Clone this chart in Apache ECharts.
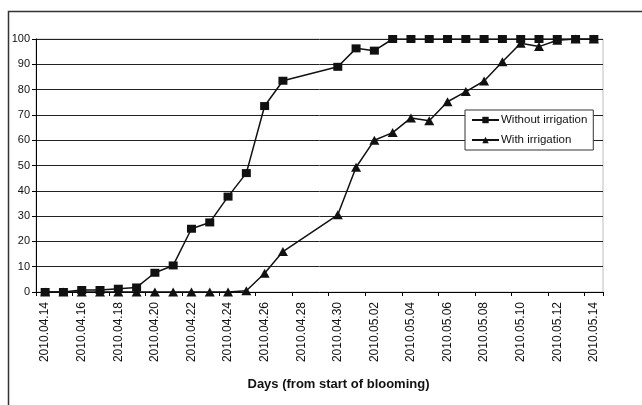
<!DOCTYPE html>
<html>
<head>
<meta charset="utf-8">
<script src="https://cdn.jsdelivr.net/npm/echarts@6/dist/echarts.min.js"></script>
<style>
html,body{margin:0;padding:0;background:#fff;}
#chart{width:642px;height:405px;}
</style>
</head>
<body>
<div id="chart"></div>
<script>
const categories = [
  '2010.04.14','2010.04.15','2010.04.16','2010.04.17','2010.04.18','2010.04.19','2010.04.20',
  '2010.04.21','2010.04.22','2010.04.23','2010.04.24','2010.04.25','2010.04.26','2010.04.27',
  '2010.04.28','2010.04.29','2010.04.30','2010.05.01','2010.05.02','2010.05.03','2010.05.04',
  '2010.05.05','2010.05.06','2010.05.07','2010.05.08','2010.05.09','2010.05.10','2010.05.11',
  '2010.05.12','2010.05.13','2010.05.14'
];
const withoutIrrigation = [
  0, 0, 0.8, 0.8, 1.3, 1.8, 7.6, 10.5, 25, 27.5, 37.7, 47, 73.5, 83.5,
  null, null, 89, 96.3, 95.4, 100, 100, 100, 100, 100, 100, 100, 100, 100, 100, 100, 100
];
const withIrrigation = [
  0, 0, 0, 0, 0, 0, 0, 0, 0, 0, 0, 0.5, 7.4, 16,
  null, null, 30.5, 49.3, 60, 63, 68.8, 67.7, 75.2, 79.2, 83.4, 91, 98.3, 97, 99.5, 100, 100
];
const seriesNames = ['Without irrigation', 'With irrigation'];
const xAxisTitle = 'Days (from start of blooming)';

const chart = echarts.init(document.getElementById('chart'), null, {renderer: 'canvas'});
const font = 'Liberation Sans, Arial, sans-serif';
chart.setOption({
  animation: false,
  backgroundColor: '#fff',
  grid: {left: 36, right: 39, top: 39, bottom: 113, show: true, borderColor: '#bdbdbd', borderWidth: 1, backgroundColor: 'transparent'},
  graphic: [{
    type: 'rect', shape: {x: 8.5, y: 11.5, width: 800, height: 600},
    style: {fill: 'none', stroke: '#333', lineWidth: 1.5}, silent: true, z: 0
  }],
  legend: {
    orient: 'vertical', left: 465, top: 110,
    data: seriesNames,
    itemWidth: 27, itemHeight: 8, itemGap: 8,
    padding: [4, 6, 4, 6],
    borderColor: '#333', borderWidth: 1, backgroundColor: '#fff',
    textStyle: {fontFamily: font, fontSize: 11.5, color: '#111', padding: [0, 0, 0, -3]}
  },
  xAxis: {
    type: 'category', data: categories, boundaryGap: true,
    axisLine: {lineStyle: {color: '#000', width: 1}},
    axisTick: {show: true, interval: 1, length: 4, lineStyle: {color: '#000'}},
    axisLabel: {interval: 1, rotate: 90, margin: 10, fontFamily: font, fontSize: 12, color: '#111'},
    splitLine: {show: false},
    name: xAxisTitle, nameLocation: 'middle', nameGap: 86,
    nameTextStyle: {fontFamily: font, fontSize: 13, fontWeight: 'bold', color: '#111', padding: [0, 0, 0, 38]}
  },
  yAxis: {
    type: 'value', min: 0, max: 100, interval: 10,
    axisLine: {show: true, lineStyle: {color: '#000', width: 1}},
    axisTick: {show: true, length: 4, lineStyle: {color: '#000'}},
    axisLabel: {margin: 6, fontFamily: font, fontSize: 11, color: '#111'},
    splitLine: {show: true, lineStyle: {color: '#222', width: 1}}
  },
  series: [{
    name: seriesNames[0], type: 'line', data: withoutIrrigation, connectNulls: true,
    symbol: 'rect', symbolSize: [9, 8], showAllSymbol: true,
    lineStyle: {color: '#111', width: 1.5}, itemStyle: {color: '#111'}, z: 3
  }, {
    name: seriesNames[1], type: 'line', data: withIrrigation, connectNulls: true,
    symbol: 'triangle', symbolSize: [10, 9], showAllSymbol: true,
    lineStyle: {color: '#111', width: 1.5}, itemStyle: {color: '#111'}, z: 4
  }]
});
</script>
</body>
</html>
